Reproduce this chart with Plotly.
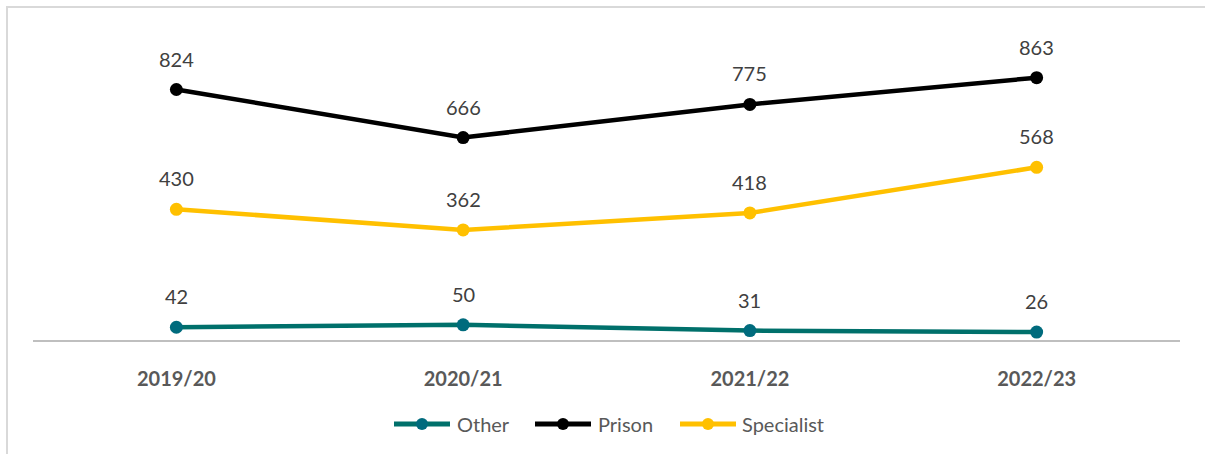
import plotly.graph_objects as go

# Data
years = ["2019/20", "2020/21", "2021/22", "2022/23"]
other = [42, 50, 31, 26]
prison = [824, 666, 775, 863]
specialist = [430, 362, 418, 568]

series = [
    ("Other", other, "#00706B", "#006B7D"),
    ("Prison", prison, "#000000", "#000000"),
    ("Specialist", specialist, "#FFC000", "#FFC000"),
]

W, H = 1205, 454
L, R, T, B = 33, 25, 36, 114
pw, ph = W - L - R, H - T - B

def px_x(p):
    return (p - L) / pw

def px_y(p):
    return (H - B - p) / ph

FONT = "Lato"
TEXT_GREY = "#404040"

fig = go.Figure()
annotations = []
for name, vals, lc, mc in series:
    fig.add_trace(go.Scatter(
        x=years, y=vals, name=name, mode="lines+markers",
        line=dict(color=lc, width=4.5),
        marker=dict(color=mc, size=13),
        showlegend=False, cliponaxis=False,
    ))
    # value labels above each point
    for yr, v in zip(years, vals):
        annotations.append(dict(x=yr, y=v, xref="x", yref="y", text=str(v),
                                showarrow=False, yshift=31, yanchor="middle",
                                font=dict(family=FONT, size=20, color=TEXT_GREY)))

shapes = [
    # outer frame
    dict(type="rect", xref="paper", yref="paper",
         x0=px_x(7), x1=px_x(W + 10), y0=px_y(H + 10), y1=px_y(7),
         line=dict(color="#D9D9D9", width=2), fillcolor="rgba(0,0,0,0)", layer="below"),
]

# custom legend
legend_items = [(394, 455), (535, 596), (680, 740)]
ly = px_y(424)
for (name, vals, lc, mc), (x0, tx) in zip(series, legend_items):
    shapes.append(dict(type="line", xref="paper", yref="paper",
                       x0=px_x(x0), x1=px_x(x0 + 56), y0=ly, y1=ly,
                       line=dict(color=lc, width=5)))
    shapes.append(dict(type="circle", xref="paper", yref="paper",
                       x0=px_x(x0 + 28 - 6), x1=px_x(x0 + 28 + 6),
                       y0=px_y(424 + 6), y1=px_y(424 - 6),
                       fillcolor=mc, line=dict(color=mc, width=0)))
    annotations.append(dict(xref="paper", yref="paper", x=px_x(tx), y=ly,
                            xanchor="left", yanchor="middle", showarrow=False,
                            text=name, font=dict(family=FONT, size=20, color="#595959")))

fig.update_layout(
    width=W, height=H,
    margin=dict(l=L, r=R, t=T, b=B),
    paper_bgcolor="white", plot_bgcolor="white",
    shapes=shapes, annotations=annotations,
    xaxis=dict(
        type="category", range=[-0.5, 3.5], showgrid=False, zeroline=False,
        showline=True, linecolor="#BFBFBF", linewidth=2, ticks="",
        tickfont=dict(family=FONT, size=20, color="#595959", weight="bold"),
        ticklabelstandoff=20,
    ),
    yaxis=dict(range=[0, 1000], visible=False, showgrid=False, zeroline=False),
)

fig.write_html("out.html")
